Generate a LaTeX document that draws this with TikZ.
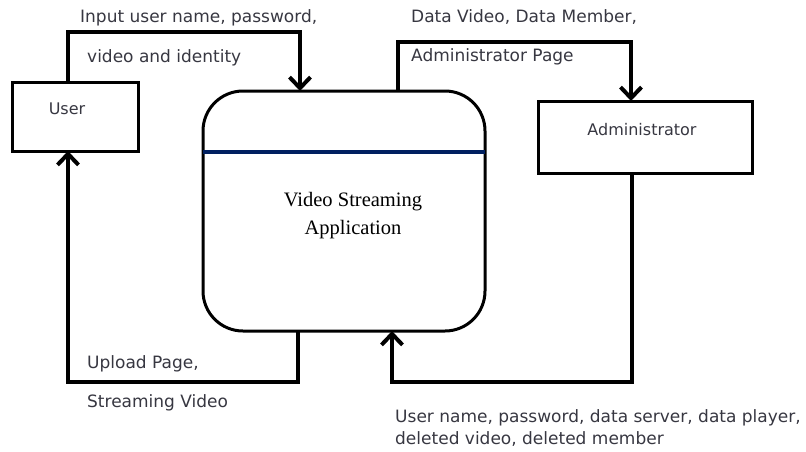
\documentclass[tikz,border=0pt]{standalone}
\usepackage{fontspec}
\setmainfont{DejaVu Sans}
\newfontfamily\titlefont{Liberation Serif}
\usetikzlibrary{arrows.meta,calc}
\definecolor{navyline}{RGB}{0,32,96}
\definecolor{txtgray}{RGB}{55,55,65}

\begin{document}
\begin{tikzpicture}[x=1pt,y=-1pt,
    ent/.style={draw,line width=3pt,outer sep=0pt,inner sep=0pt},
    flow/.style={line width=4pt,-{Straight Barb[length=11pt,width=21pt]}},
    lbl/.style={anchor=base west,inner sep=0pt,text=txtgray,font=\fontsize{17}{20}\selectfont},
    boxtxt/.style={anchor=base,inner sep=0pt,text=txtgray,font=\fontsize{16}{19}\selectfont}]
  \useasboundingbox (0,0) rectangle (806,451);
  % the two entities and the process
  \node[ent,minimum width=126pt,minimum height=69pt] (user) at (75,116.5) {};
  \node[ent,minimum width=214pt,minimum height=72pt] (admin) at (645,137) {};
  \node[ent,rounded corners=40pt,minimum width=282pt,minimum height=240pt] (app) at (344,211) {};
  \draw[navyline,line width=3.5pt] ([yshift=-61pt]app.north west) -- ([yshift=-61pt]app.north east);
  \node[boxtxt] (usert) at (67,114) {User};
  \node[boxtxt] (admint) at (642,135) {Administrator};
  \node[font=\titlefont\fontsize{20.5}{28}\selectfont,align=center] (appt) at (353,216)
    {Video Streaming\\Application};
  % data flows
  \draw[flow] ([xshift=56pt]user.north west) -- ++(0,-50) -| ([xshift=97pt]app.north west);
  \draw[flow] ([xshift=195pt]app.north west) -- ++(0,-49) -| ([xshift=93pt]admin.north west);
  \draw[flow] ([xshift=95pt]app.south west) -- ++(0,51) -| ([xshift=56pt]user.south west);
  \draw[flow] ([xshift=94pt]admin.south west) -- ++(0,209) -| ([xshift=189pt]app.south west);
  % flow labels
  \foreach \nm/\x/\y/\t in {in1/80/22/{Input user name, password,},
      in2/87/62/{video and identity},
      out1/411/22/{Data Video, Data Member,},
      out2/411/61/{Administrator Page},
      up1/87/368/{Upload Page,},
      up2/87/407/{Streaming Video},
      del1/395/422/{User name, password, data server, data player,},
      del2/395/444/{deleted video, deleted member}}{%
    \node[lbl] (\nm) at (\x,\y) {\t};
  }
\end{tikzpicture}
\end{document}
